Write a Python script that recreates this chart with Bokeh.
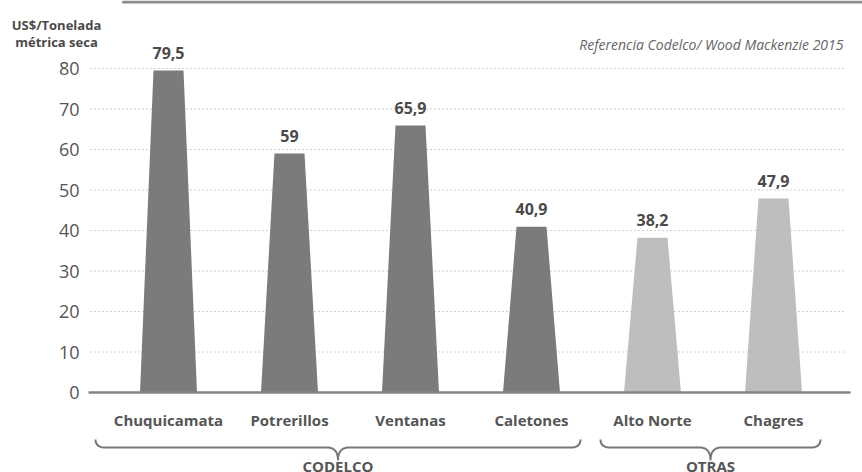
import numpy as np
from bokeh.plotting import figure
from bokeh.models import ColumnDataSource, Range1d
from bokeh.core.properties import value
from bokeh.embed import file_html
from bokeh.resources import INLINE

# ---- data ----
categories = ["Chuquicamata", "Potrerillos", "Ventanas", "Caletones", "Alto Norte", "Chagres"]
costs = [79.5, 59, 65.9, 40.9, 38.2, 47.9]
cost_labels = ["79,5", "59", "65,9", "40,9", "38,2", "47,9"]
groups = ["CODELCO", "CODELCO", "CODELCO", "CODELCO", "OTRAS", "OTRAS"]
group_names = ["CODELCO", "OTRAS"]
y_ticks = [0, 10, 20, 30, 40, 50, 60, 70, 80]
y_title = ["US$/Tonelada", "métrica seca"]
source_note = "Referencia Codelco/ Wood Mackenzie 2015"

# ---- style / layout ----
FONT = "Open Sans"
DARK = "#7b7b7e"
LIGHT = "#bdbec0"
TEXT = "#4a4a4a"
group_colors = {"CODELCO": DARK, "OTRAS": LIGHT}

W, H = 862, 472
X0_PX, Y0_PX = 168.0, 392.0   # pixel of first category / value 0
PX_X = 121.0                  # pixels per category step
PX_Y = 4.05                   # pixels per unit of value


def dx(px):   # pixel column -> data x
    return (px - X0_PX) / PX_X


def dy(py):   # pixel row -> data y
    return (Y0_PX - py) / PX_Y


p = figure(width=W, height=H, output_backend="svg", toolbar_location=None,
           x_range=Range1d(dx(0), dx(W)), y_range=Range1d(dy(H), dy(0)),
           x_axis_location=None, y_axis_location=None,
           min_border=0, min_border_left=0, min_border_right=0,
           min_border_top=0, min_border_bottom=0)
p.outline_line_color = None
p.background_fill_color = "white"
p.xgrid.visible = False
p.ygrid.visible = False

# top frame edge (bottom of header box)
p.line([dx(123), dx(862)], [dy(1.5), dy(1.5)], line_color="#8c8c8c", line_width=3,
       line_cap="round")

# gridlines
gt = [t for t in y_ticks if t > 0]
p.segment(x0=[dx(90)] * len(gt), y0=gt, x1=[dx(845)] * len(gt), y1=gt,
          line_color="#a0a0a0", line_dash="1 3", line_width=1)

# y tick labels
tk_src = ColumnDataSource(dict(x=[dx(79)] * len(y_ticks), y=y_ticks, t=[str(v) for v in y_ticks]))
p.text("x", "y", text="t", source=tk_src, text_align="right", text_baseline="middle",
       text_font=value(FONT), text_font_size="18px", text_color="#555555")

# trapezoid bars
xi = np.arange(len(categories), dtype=float)
hb = 28.5 / PX_X
ht = 15.0 / PX_X
xs = [[x - hb, x - ht, x + ht, x + hb] for x in xi]
ys = [[0, v, v, 0] for v in costs]
bar_src = ColumnDataSource(dict(xs=xs, ys=ys, color=[group_colors[g] for g in groups]))
p.patches("xs", "ys", source=bar_src, fill_color="color", line_color=None)

# baseline
p.segment(x0=[dx(88)], y0=[0], x1=[dx(850)], y1=[0], line_color="#858585", line_width=2.5)

# value labels
lab_src = ColumnDataSource(dict(x=xi, y=costs, t=cost_labels, c=categories))
p.text("x", "y", text="t", source=lab_src, text_align="center", text_baseline="bottom",
       y_offset=-12, text_font=value(FONT), text_font_style="bold",
       text_font_size="16px", text_color=TEXT)

# category labels
cat_src = ColumnDataSource(dict(x=xi, y=[dy(419)] * len(xi), t=categories))
p.text("x", "y", text="t", source=cat_src, text_align="center", text_baseline="middle",
       text_font=value(FONT), text_font_style="bold", text_font_size="15px",
       text_color="#555555")


# braces
def brace(left, right, tip):
    y_end_ = dy(439)
    y_line = dy(447)
    y_tip = dy(460)
    de = 10 / PX_X
    dt = 11 / PX_X
    t = np.linspace(0, 1, 12)

    def quad(p0, p1, p2):
        return [((1 - s) ** 2 * p0[0] + 2 * (1 - s) * s * p1[0] + s ** 2 * p2[0],
                 (1 - s) ** 2 * p0[1] + 2 * (1 - s) * s * p1[1] + s ** 2 * p2[1]) for s in t]

    pts = []
    pts += quad((left, y_end_), (left, y_line), (left + de, y_line))
    pts += quad((tip - dt, y_line), (tip, y_line), (tip, y_tip))
    pts += quad((tip, y_tip), (tip, y_line), (tip + dt, y_line))
    pts += quad((right - de, y_line), (right, y_line), (right, y_end_))
    return [q[0] for q in pts], [q[1] for q in pts]


group_spans = {"CODELCO": (dx(95), dx(580)), "OTRAS": (dx(600), dx(820))}
for g in group_names:
    l, r = group_spans[g]
    tip = (l + r) / 2
    bx, by = brace(l, r, tip)
    p.line(bx, by, line_color="#777777", line_width=2)

grp_x = [(group_spans[g][0] + group_spans[g][1]) / 2 for g in group_names]
grp_src = ColumnDataSource(dict(x=grp_x, y=[dy(455)] * 2, t=group_names))
p.text("x", "y", text="t", source=grp_src, text_align="center", text_baseline="top",
       text_font=value(FONT), text_font_style="bold", text_font_size="15px",
       text_color="#555555")

# source note
p.text(x=[dx(843)], y=[dy(44)], text=[source_note],
       text_align="right", text_baseline="middle", text_font=value(FONT),
       text_font_style="italic", text_font_size="14px", text_color="#666666")

# y title
p.text(x=[dx(56)] * 2, y=[dy(24), dy(41)], text=y_title,
       text_align="center", text_baseline="middle", text_font=value(FONT),
       text_font_style="bold", text_font_size="13px", text_color=TEXT)

open("out.html", "w").write(file_html(p, INLINE))
